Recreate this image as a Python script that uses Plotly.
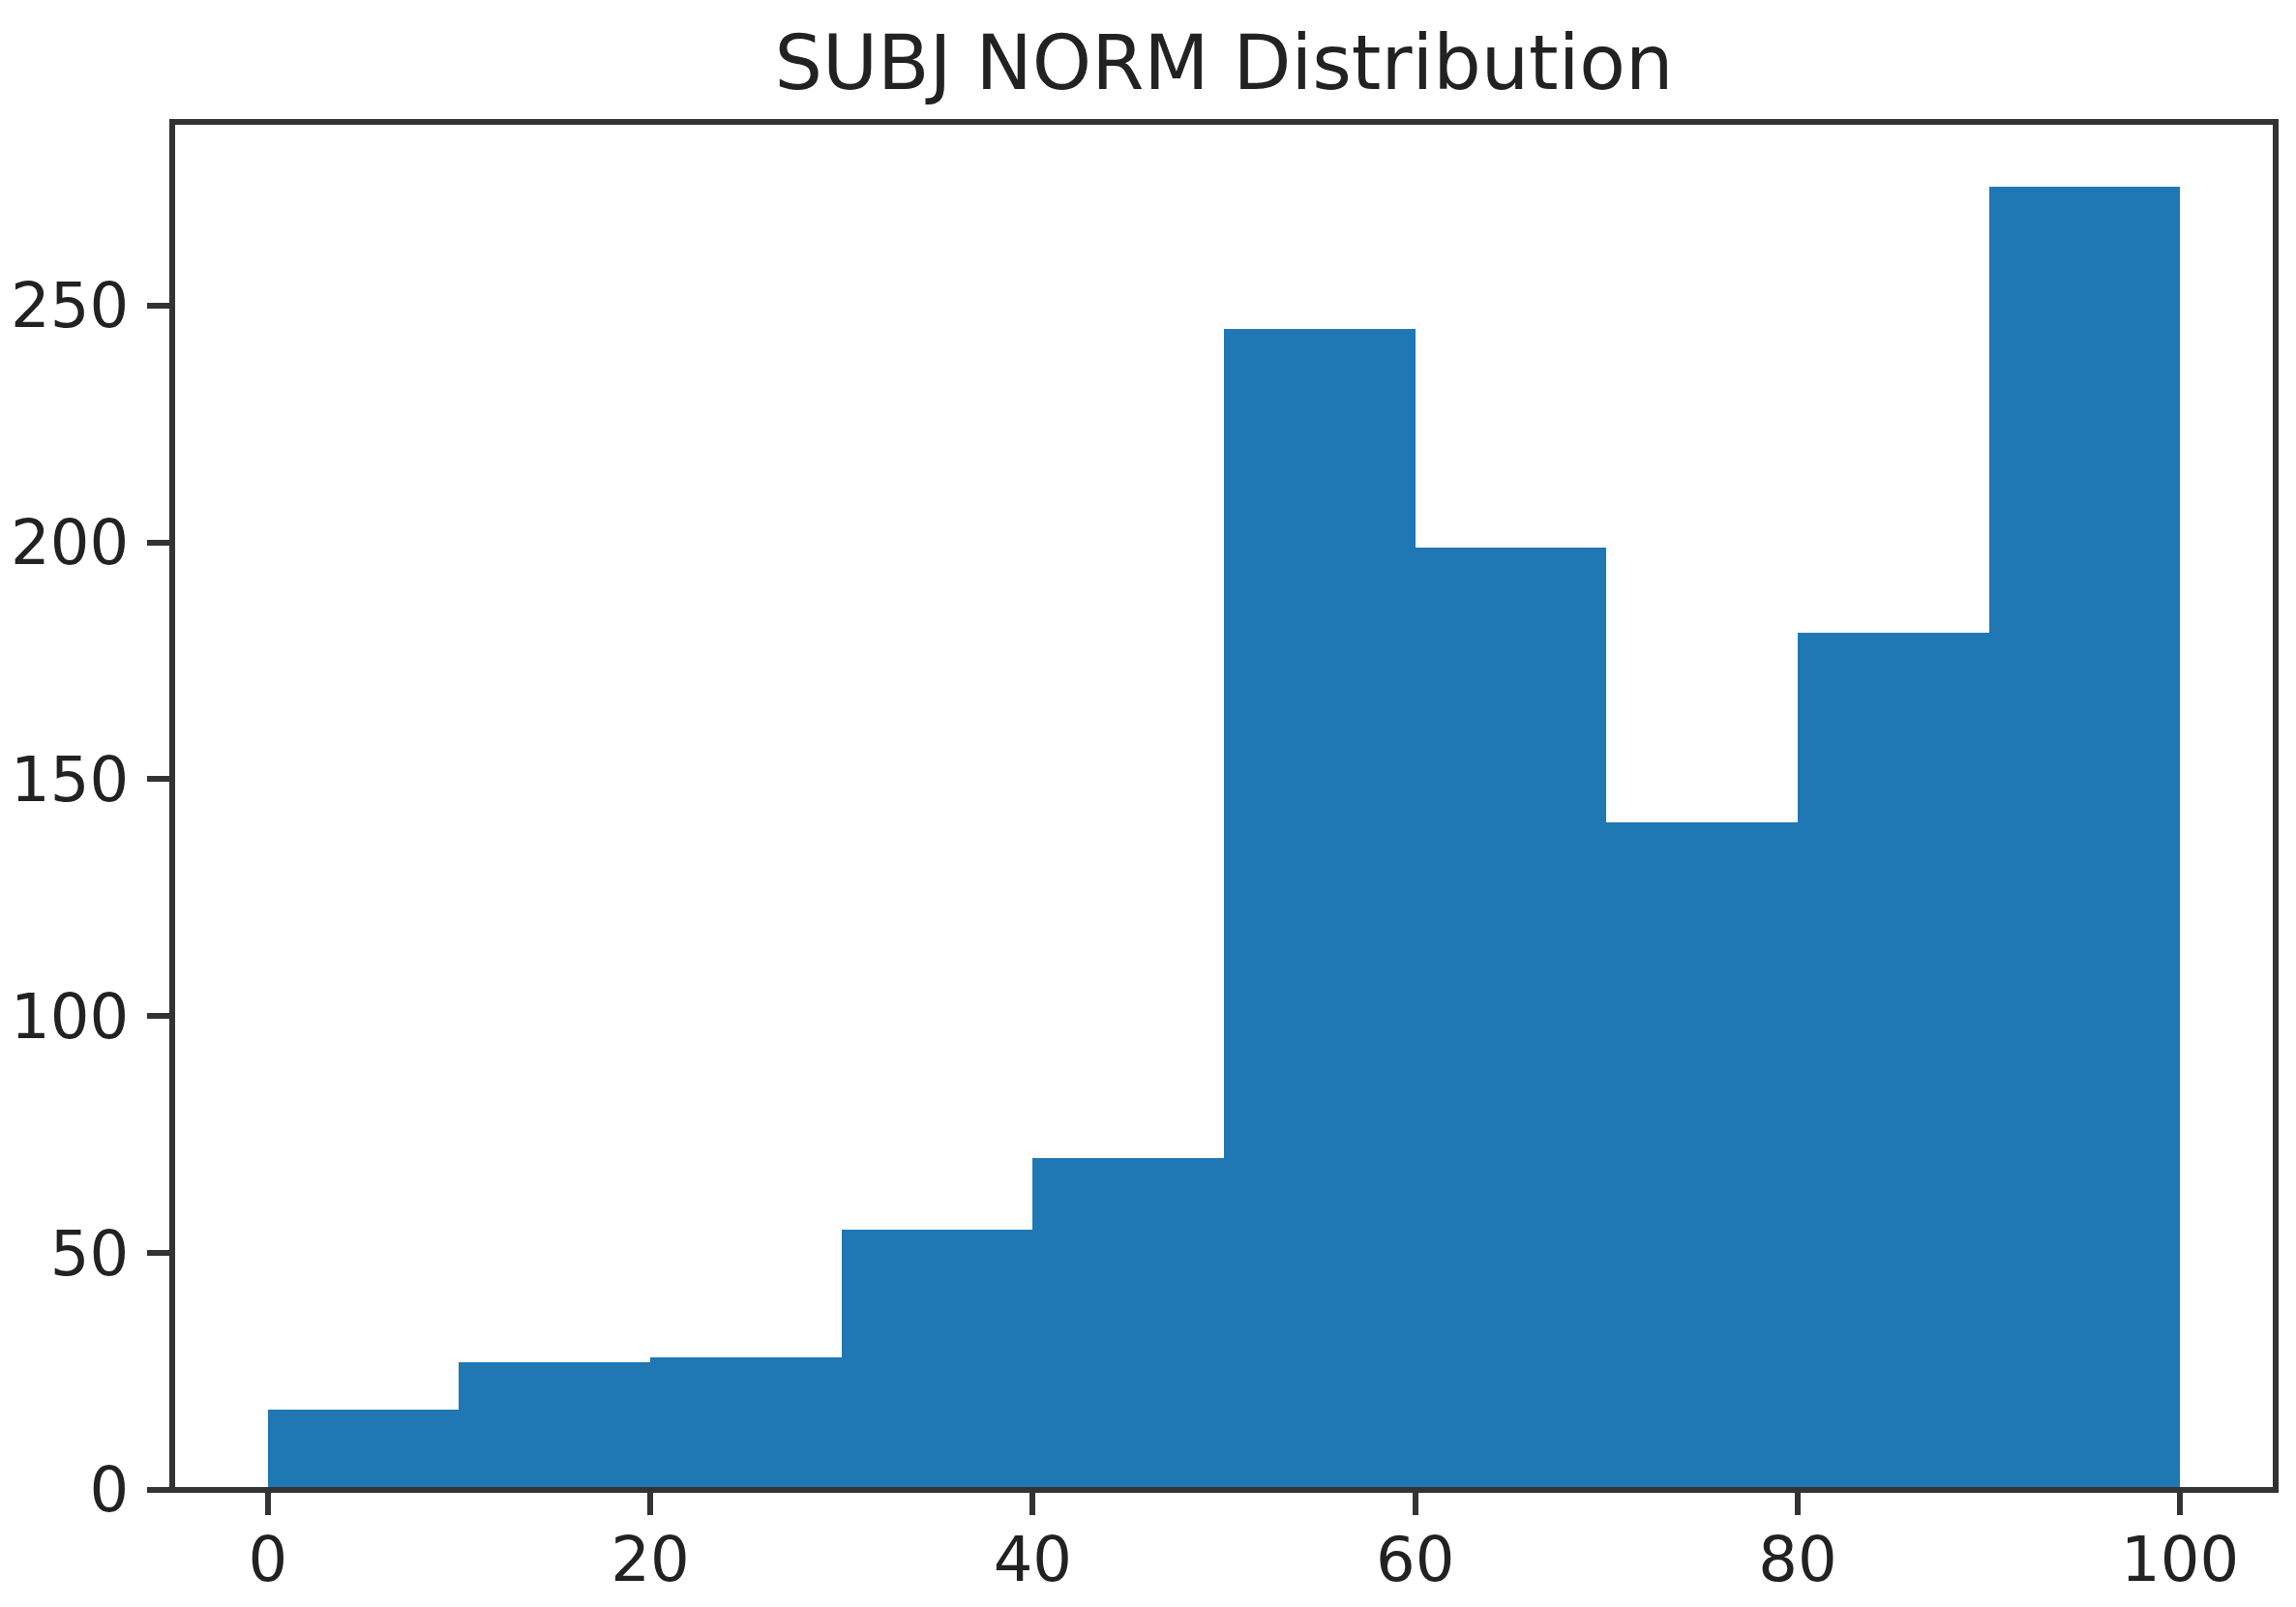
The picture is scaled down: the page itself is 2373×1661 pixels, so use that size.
import plotly.graph_objects as go

# Histogram data
bin_edges = [0, 10, 20, 30, 40, 50, 60, 70, 80, 90, 100]
counts = [17, 27, 28, 55, 70, 245, 199, 141, 181, 275]
x_ticks = [0, 20, 40, 60, 80, 100]
y_ticks = [0, 50, 100, 150, 200, 250]
title_text = "SUBJ NORM Distribution"

lefts = bin_edges[:-1]
widths = [bin_edges[i + 1] - bin_edges[i] for i in range(len(lefts))]

W, H = 2373, 1661
L, R, T, B = 178, 2352, 126, 1540

fig = go.Figure(
    go.Bar(
        x=lefts,
        y=counts,
        width=widths,
        offset=0,
        marker=dict(color="#1f77b4", line=dict(width=0)),
        showlegend=False,
    )
)

axis_common = dict(
    automargin=False,
    showgrid=False,
    zeroline=False,
    showline=False,
    ticks="outside",
    ticklen=25,
    tickwidth=6,
    tickcolor="#333333",
    tickfont=dict(family="DejaVu Sans", size=64, color="#222222"),
)

fig.update_layout(
    width=W,
    height=H,
    paper_bgcolor="white",
    plot_bgcolor="white",
    bargap=0,
    margin=dict(l=L, r=W - R, t=T, b=H - B, pad=0, autoexpand=False),
    title=dict(
        text=title_text,
        font=dict(family="DejaVu Sans", size=78, color="#222222"),
        x=(L + R) / 2 / W,
        xanchor="center",
        xref="container",
        y=1 - 65 / H,
        yanchor="middle",
        yref="container",
    ),
    xaxis=dict(
        range=[-5, 105],
        tickvals=x_ticks,
        ticktext=[str(v) for v in x_ticks],
        ticklabelstandoff=-9,
        **axis_common,
    ),
    yaxis=dict(
        range=[0, 288.75],
        tickvals=y_ticks,
        ticktext=[str(v) for v in y_ticks],
        ticklabelstandoff=6,
        **axis_common,
    ),
    shapes=[
        dict(
            type="rect",
            xref="paper",
            yref="paper",
            x0=0,
            x1=1,
            y0=0,
            y1=1,
            line=dict(color="#333333", width=6),
            fillcolor="rgba(0,0,0,0)",
            layer="above",
        )
    ],
)

fig.write_html(
    "out.html",
    config={"displayModeBar": False},
    post_script="document.body.style.margin='0';document.body.style.overflow='hidden';",
)
